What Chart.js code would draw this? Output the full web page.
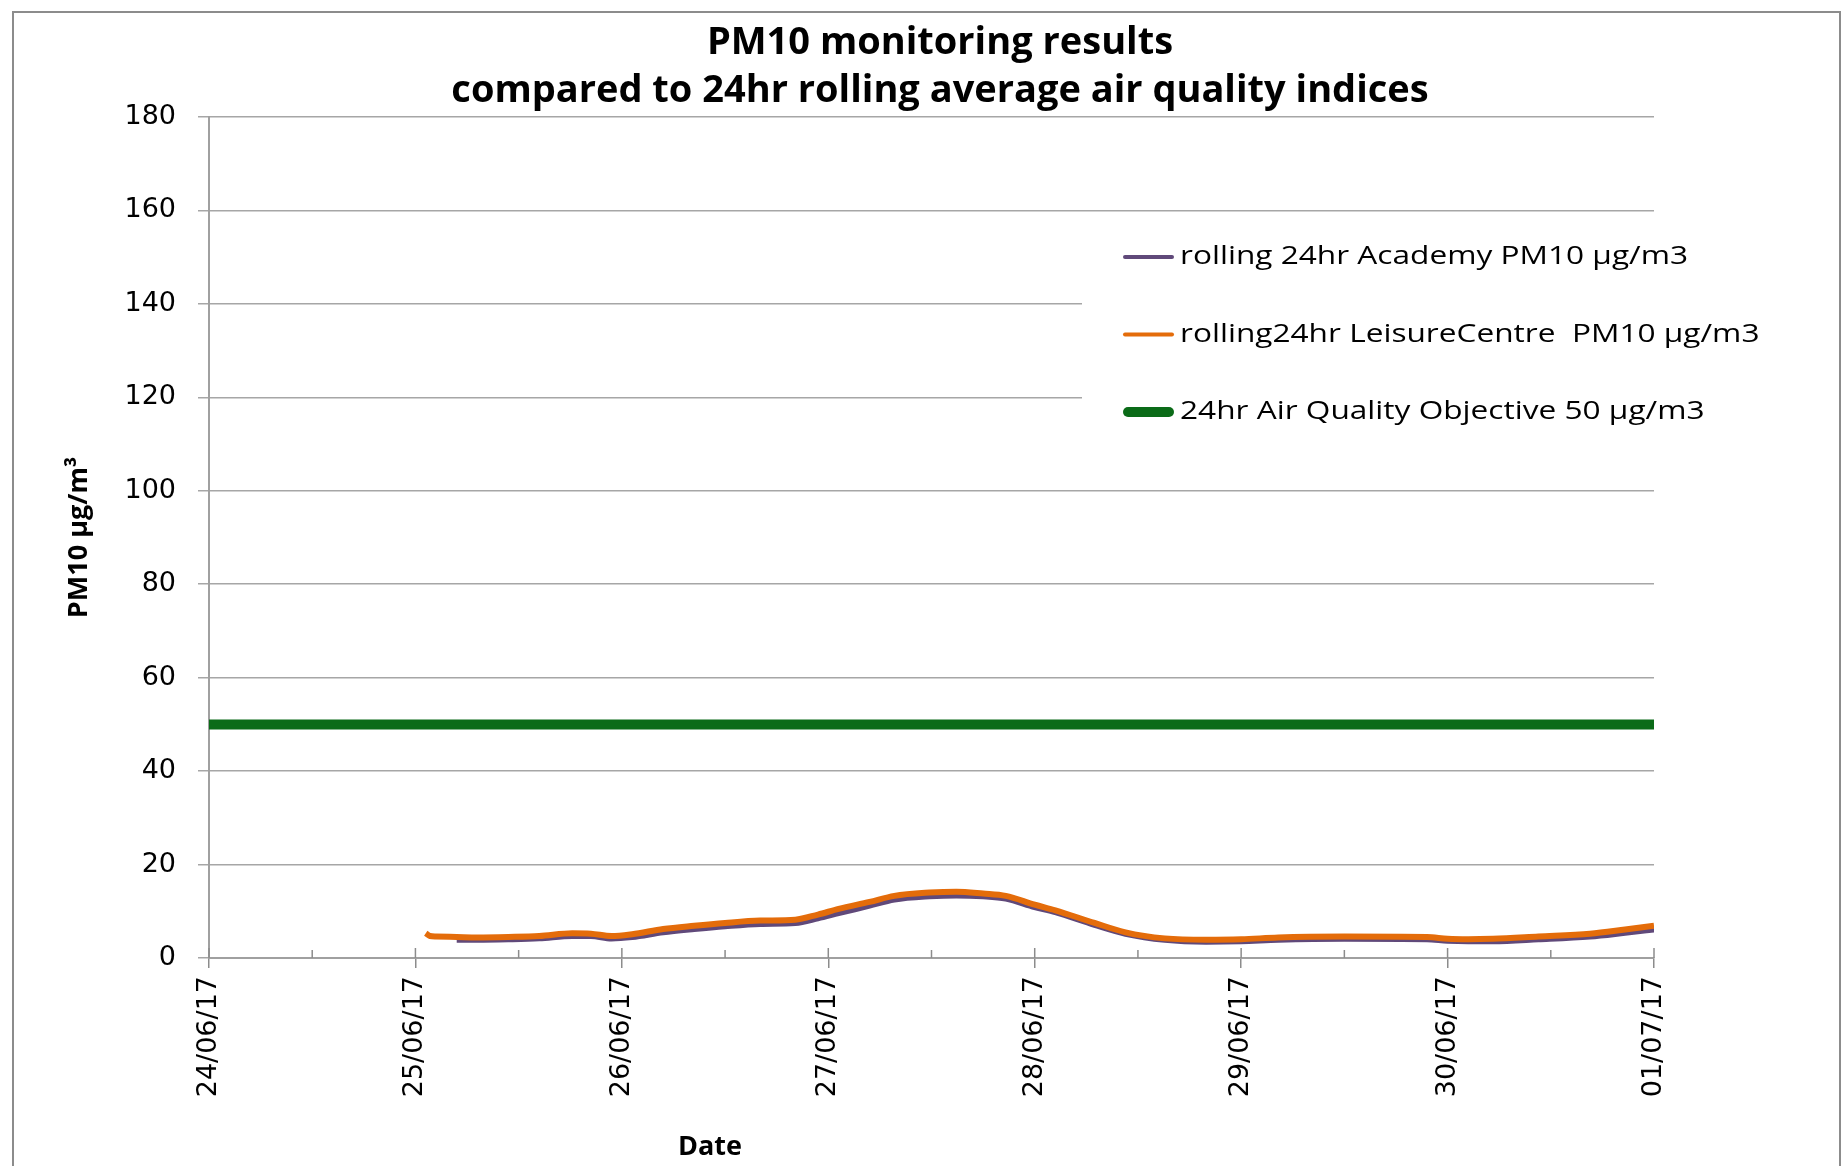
<!DOCTYPE html>
<html>
<head>
<meta charset="utf-8">
<title>PM10 monitoring results</title>
<script src="https://cdn.jsdelivr.net/npm/chart.js@4.4.1/dist/chart.umd.min.js"></script>
<style>
    html, body { margin: 0; padding: 0; background: #fff; }
    #wrap { width: 1842px; height: 1166px; }
</style>
</head>
<body>
<div id="wrap"><canvas id="pmChart" width="1842" height="1166"></canvas></div>
<script>
// x values are days after 24/06/17 00:00
const dateLabels = ['24/06/17', '25/06/17', '26/06/17', '27/06/17', '28/06/17', '29/06/17', '30/06/17', '01/07/17'];
const titleLines = ['PM10 monitoring results', 'compared to 24hr rolling average air quality indices'];
const seriesLabels = [
    'rolling 24hr Academy PM10 \u00b5g/m3',
    'rolling24hr LeisureCentre  PM10 \u00b5g/m3',
    '24hr Air Quality Objective 50 \u00b5g/m3'
];

const academyDays = [1.2, 1.3, 1.45, 1.6, 1.76, 1.85, 1.95, 2.05, 2.2, 2.35, 2.5, 2.67, 2.84, 2.95, 3.05, 3.2, 3.32, 3.49, 3.62, 3.75, 3.86, 4.0, 4.1, 4.29, 4.44, 4.63, 4.83, 5.0, 5.18, 5.5, 5.9, 6.0, 6.1, 6.22, 6.44, 6.69, 6.86, 7.0];
const academyPm10 = [3.9, 3.9, 4.0, 4.2, 4.7, 4.7, 4.2, 4.5, 5.5, 6.2, 6.8, 7.3, 7.5, 8.5, 9.6, 11.2, 12.5, 13.2, 13.4, 13.2, 12.7, 10.9, 9.8, 7.1, 5.2, 3.9, 3.5, 3.6, 3.9, 4.1, 4.0, 3.7, 3.6, 3.6, 4.0, 4.6, 5.4, 6.1];

const leisureDays = [1.05, 1.07, 1.1, 1.2, 1.3, 1.45, 1.6, 1.76, 1.85, 1.95, 2.05, 2.2, 2.35, 2.5, 2.67, 2.84, 2.95, 3.05, 3.2, 3.32, 3.49, 3.62, 3.75, 3.86, 4.0, 4.1, 4.29, 4.44, 4.63, 4.83, 5.0, 5.18, 5.5, 5.9, 6.0, 6.1, 6.22, 6.44, 6.69, 6.86, 7.0];
const leisurePm10 = [5.3, 4.7, 4.6, 4.5, 4.4, 4.5, 4.7, 5.3, 5.2, 4.7, 5.1, 6.2, 6.9, 7.5, 8.0, 8.2, 9.3, 10.5, 12.0, 13.3, 14.0, 14.2, 13.8, 13.3, 11.4, 10.2, 7.5, 5.5, 4.2, 3.9, 4.0, 4.4, 4.6, 4.5, 4.1, 4.0, 4.1, 4.6, 5.2, 6.1, 6.9];

const objectiveDays = [0, 7];
const objectivePm10 = [50, 50];

function toPoints(xs, ys) {
    return xs.map((x, i) => ({ x: x, y: ys[i] }));
}

// Titles, frame, "Date" label and the small upward ticks on the x axis
const decorPlugin = {
    id: 'decor',
    afterDraw(chart) {
        const ctx = chart.ctx;
        const xScale = chart.scales.x;
        ctx.save();

        ctx.strokeStyle = '#8c8c8c';
        ctx.lineWidth = 2;
        ctx.strokeRect(13, 12, 1827, 1300);

        ctx.fillStyle = '#000';
        ctx.textAlign = 'center';
        ctx.textBaseline = 'middle';
        ctx.font = 'bold 38px "Open Sans"';
        ctx.fillText(titleLines[0], 940, 43);
        ctx.fillText(titleLines[1], 940, 91);

        ctx.font = 'bold 27px "Open Sans"';
        ctx.fillText('Date', 710, 1147);

        // ticks above the axis, every half day
        ctx.strokeStyle = '#8c8c8c';
        ctx.lineWidth = 1.5;
        const base = chart.chartArea.bottom;
        for (let v = xScale.min; v <= xScale.max; v += 0.5) {
            const px = xScale.getPixelForValue(v);
            ctx.beginPath();
            ctx.moveTo(px, base);
            ctx.lineTo(px, base - (Number.isInteger(v) ? 10 : 8));
            ctx.stroke();
        }
        ctx.restore();
    }
};

// Legend sits inside the plot on a white box
const legendPlugin = {
    id: 'boxLegend',
    afterDraw(chart) {
        const ctx = chart.ctx;
        ctx.save();
        ctx.fillStyle = '#fff';
        ctx.fillRect(1082, 222, 720, 262);

        ctx.font = '25px "Open Sans"';
        const stretch = 508 / ctx.measureText(seriesLabels[0]).width;
        ctx.textBaseline = 'middle';
        ctx.lineCap = 'round';

        chart.data.datasets.forEach((ds, i) => {
            const y = 257 + i * 77.5;
            const w = ds.legendWidth;
            ctx.strokeStyle = ds.borderColor;
            ctx.lineWidth = w;
            ctx.beginPath();
            ctx.moveTo(1123 + w / 2, y);
            ctx.lineTo(1174 - w / 2, y);
            ctx.stroke();

            ctx.save();
            ctx.translate(1180, y);
            ctx.scale(stretch, 1);
            ctx.fillStyle = '#000';
            ctx.fillText(ds.label, 0, 0);
            ctx.restore();
        });
        ctx.restore();
    }
};

document.addEventListener('DOMContentLoaded', function() {
    const canvas = document.getElementById('pmChart');

    new Chart(canvas.getContext('2d'), {
        type: 'line',
        data: {
            datasets: [
                {
                    label: seriesLabels[0],
                    data: toPoints(academyDays, academyPm10),
                    borderColor: '#60497a',
                    borderWidth: 6,
                    legendWidth: 4,
                    pointRadius: 0,
                    cubicInterpolationMode: 'monotone',
                    order: 2
                },
                {
                    label: seriesLabels[1],
                    data: toPoints(leisureDays, leisurePm10),
                    borderColor: '#e46c0a',
                    borderWidth: 6,
                    legendWidth: 4,
                    pointRadius: 0,
                    cubicInterpolationMode: 'monotone',
                    order: 1
                },
                {
                    label: seriesLabels[2],
                    data: toPoints(objectiveDays, objectivePm10),
                    borderColor: '#0b6b18',
                    borderWidth: 10,
                    legendWidth: 10,
                    pointRadius: 0,
                    order: 3
                }
            ]
        },
        options: {
            responsive: false,
            animation: false,
            layout: {
                padding: { top: 117, right: 188, left: 0, bottom: 0 }
            },
            plugins: {
                legend: { display: false },
                title: { display: false },
                tooltip: { enabled: false }
            },
            scales: {
                x: {
                    type: 'linear',
                    min: 0,
                    max: 7,
                    afterFit: function(scale) { scale.height = 208; },
                    ticks: {
                        stepSize: 0.5,
                        autoSkip: false,
                        minRotation: 90,
                        maxRotation: 90,
                        padding: 8,
                        color: '#000',
                        font: { family: 'DejaVu Sans', size: 27 },
                        callback: function(value) {
                            return Number.isInteger(value) ? dateLabels[value] : '';
                        }
                    },
                    grid: {
                        drawOnChartArea: false,
                        tickLength: 10,
                        lineWidth: 1.5,
                        color: function(c) {
                            return c.tick && Number.isInteger(c.tick.value) ? '#8c8c8c' : 'rgba(0,0,0,0)';
                        }
                    },
                    border: { color: '#a0a0a0', width: 2 }
                },
                y: {
                    min: 0,
                    max: 180,
                    afterFit: function(scale) { scale.width = 209; },
                    ticks: {
                        stepSize: 20,
                        padding: 22,
                        color: '#000',
                        font: { family: 'DejaVu Sans', size: 27 }
                    },
                    grid: {
                        color: '#a6a6a6',
                        lineWidth: 1.5,
                        tickLength: 11
                    },
                    border: { color: '#a0a0a0', width: 2 },
                    title: {
                        display: true,
                        text: 'PM10 \u00b5g/m\u00b3',
                        color: '#000',
                        font: { family: 'Open Sans', size: 27, weight: 'bold' },
                        padding: { top: 63, bottom: 0 }
                    }
                }
            }
        },
        plugins: [decorPlugin, legendPlugin]
    });
});
</script>
</body>
</html>
